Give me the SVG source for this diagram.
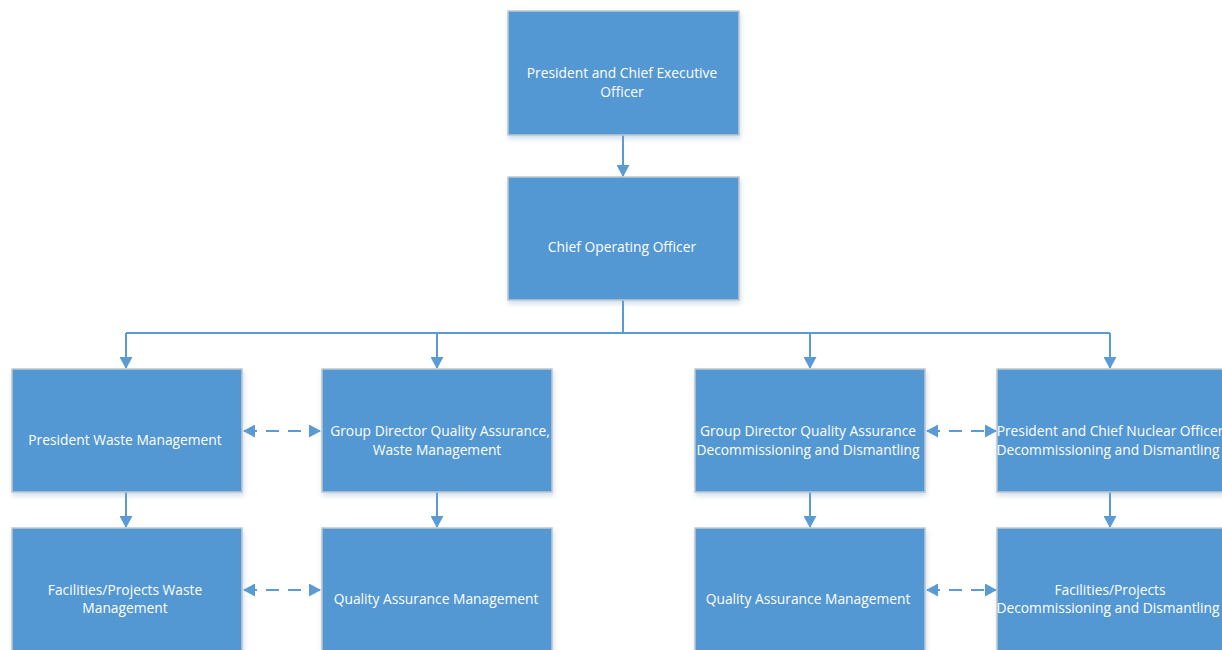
<svg xmlns="http://www.w3.org/2000/svg" width="1222" height="650" viewBox="0 0 1222 650">
<defs>
<filter id="sh" x="-10%" y="-10%" width="125%" height="130%">
<feDropShadow dx="1" dy="3" stdDeviation="2.5" flood-color="#7f9fbf" flood-opacity="0.35"/>
</filter>
<marker id="ah" viewBox="0 0 12 12" refX="11" refY="6" markerWidth="12" markerHeight="13" markerUnits="userSpaceOnUse" orient="auto-start-reverse" preserveAspectRatio="none">
<path d="M0,0 L12,6 L0,12 Z" fill="#5B9BD5"/>
</marker>
</defs>
<style>
.box{fill:#5397D3;stroke:#BFC7D0;stroke-width:1.5;filter:url(#sh)}
.t{font-family:"Open Sans","Noto Sans",sans-serif;font-size:13.8px;fill:#fff;text-anchor:middle}
.c{fill:none;stroke:#5B9BD5;stroke-width:2}
.d{stroke-dasharray:13 9}
</style>
<rect width="1222" height="650" fill="#fff"/>
<g id="connectors">
<path class="c" d="M623,135 V176" marker-end="url(#ah)"/>
<path class="c" d="M623,300 V333 M126,333 H1110"/>
<path class="c" d="M126,333 V368" marker-end="url(#ah)"/>
<path class="c" d="M437,333 V368" marker-end="url(#ah)"/>
<path class="c" d="M810,333 V368" marker-end="url(#ah)"/>
<path class="c" d="M1110,333 V368" marker-end="url(#ah)"/>
<path class="c" d="M126,492 V527" marker-end="url(#ah)"/>
<path class="c" d="M437,492 V527" marker-end="url(#ah)"/>
<path class="c" d="M810,492 V527" marker-end="url(#ah)"/>
<path class="c" d="M1110,492 V527" marker-end="url(#ah)"/>
<path class="c d" d="M244,431 H320" marker-start="url(#ah)" marker-end="url(#ah)"/>
<path class="c d" d="M244,590 H320" marker-start="url(#ah)" marker-end="url(#ah)"/>
<path class="c d" d="M927,431 H996" marker-start="url(#ah)" marker-end="url(#ah)"/>
<path class="c d" d="M927,590 H996" marker-start="url(#ah)" marker-end="url(#ah)"/>
</g>
<g id="ceo"><rect class="box" x="508" y="11" width="231" height="124"/>
<text class="t" x="622" y="78">President and Chief Executive</text><text class="t" x="622" y="97">Officer</text></g>
<g id="coo"><rect class="box" x="508" y="177" width="231" height="123"/>
<text class="t" x="622" y="252">Chief Operating Officer</text></g>
<g id="pwm"><rect class="box" x="12" y="369" width="230" height="123"/>
<text class="t" x="125" y="445">President Waste Management</text></g>
<g id="gdqa-wm"><rect class="box" x="322" y="369" width="230" height="123"/>
<text class="t" x="440" y="436">Group Director Quality Assurance,</text><text class="t" x="437" y="455">Waste Management</text></g>
<g id="gdqa-dd"><rect class="box" x="695" y="369" width="230" height="123"/>
<text class="t" x="808" y="436">Group Director Quality Assurance</text><text class="t" x="808" y="455">Decommissioning and Dismantling</text></g>
<g id="pcno"><rect class="box" x="997" y="369" width="232" height="123"/>
<text class="t" x="1110" y="436">President and Chief Nuclear Officer</text><text class="t" x="1108" y="455">Decommissioning and Dismantling</text></g>
<g id="fpwm"><rect class="box" x="12" y="528" width="230" height="130"/>
<text class="t" x="125" y="595">Facilities/Projects Waste</text><text class="t" x="125" y="613">Management</text></g>
<g id="qam-wm"><rect class="box" x="322" y="528" width="230" height="130"/>
<text class="t" x="436" y="604">Quality Assurance Management</text></g>
<g id="qam-dd"><rect class="box" x="695" y="528" width="230" height="130"/>
<text class="t" x="808" y="604">Quality Assurance Management</text></g>
<g id="fpdd"><rect class="box" x="997" y="528" width="232" height="130"/>
<text class="t" x="1110" y="595">Facilities/Projects</text><text class="t" x="1108" y="613">Decommissioning and Dismantling</text></g>
</svg>
